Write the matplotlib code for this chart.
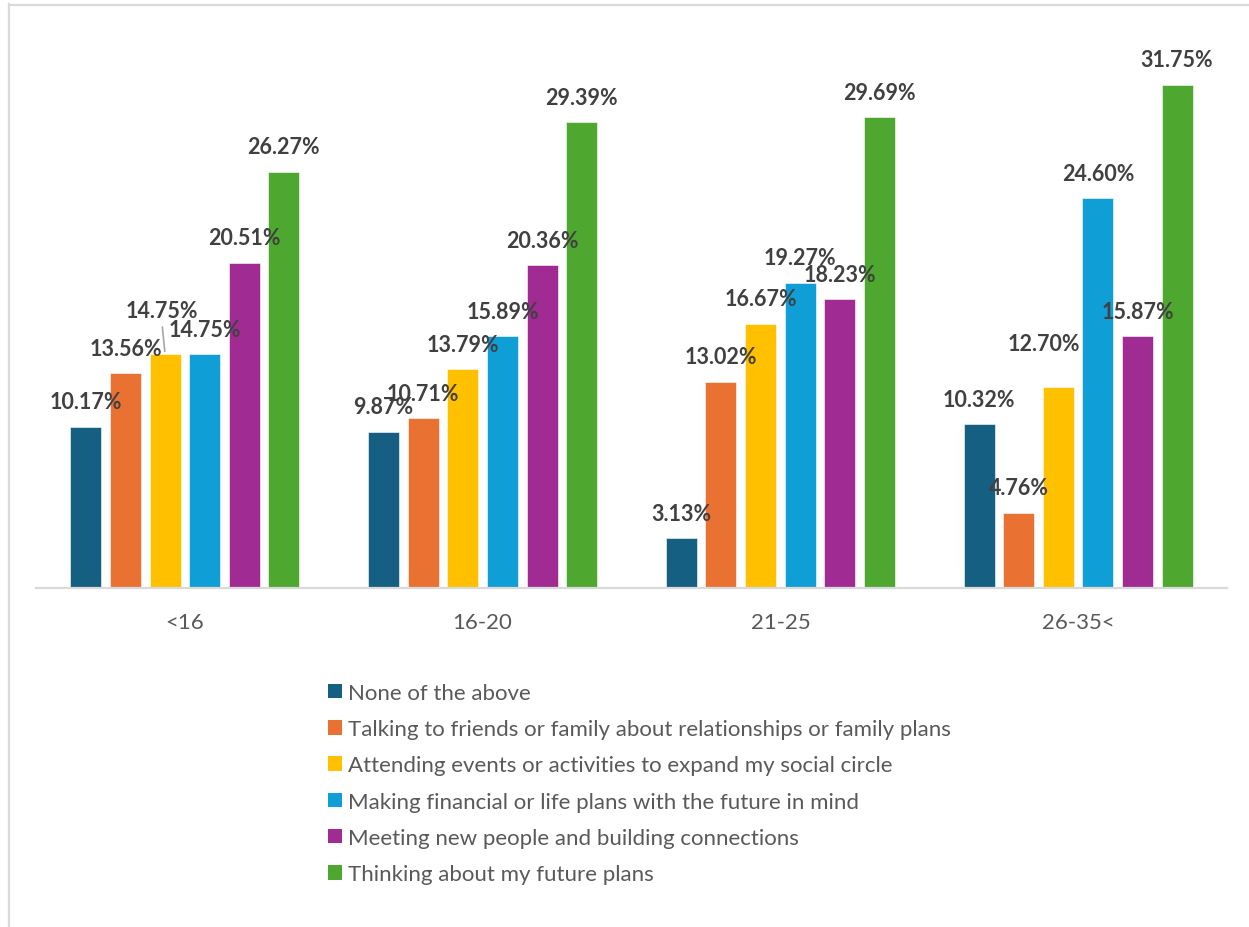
import numpy as np
import matplotlib
matplotlib.use("Agg")
import matplotlib.pyplot as plt
from matplotlib.patches import Patch
from matplotlib.lines import Line2D

plt.rcParams["font.family"] = ["Lato", "DejaVu Sans"]

# Age groups and the share of answers for each activity (percent)
age_groups = ["<16", "16-20", "21-25", "26-35<"]
series_names = [
    "None of the above",
    "Talking to friends or family about relationships or family plans",
    "Attending events or activities to expand my social circle",
    "Making financial or life plans with the future in mind",
    "Meeting new people and building connections",
    "Thinking about my future plans",
]
none_of_above = [10.17, 9.87, 3.13, 10.32]
talking_family = [13.56, 10.71, 13.02, 4.76]
attending_events = [14.75, 13.79, 16.67, 12.70]
making_plans = [14.75, 15.89, 19.27, 24.60]
meeting_people = [20.51, 20.36, 18.23, 15.87]
future_plans = [26.27, 29.39, 29.69, 31.75]

values = [none_of_above, talking_family, attending_events,
          making_plans, meeting_people, future_plans]
colors = ["#156082", "#E97132", "#FFC000", "#0F9ED5", "#A02B93", "#4EA72E"]

W, H = 1249, 928
fig = plt.figure(figsize=(W / 100, H / 100), dpi=100)

# plot area in pixels: left 36, right 1227, baseline at y=589
px_per_pct = 15.85
ymax = 35
ax = fig.add_axes([36 / W, (H - 589) / H, (1227 - 36) / W, ymax * px_per_pct / H])

x = np.arange(len(age_groups))
pitch = 0.133
width = 0.104
n = len(values)

# label offsets in pixels (dx, dy above bar top); a few are nudged apart
default_dy = 25
nudges = {(0, 2): (-3, 44), (3, 2): (-14, 43)}

for i, (vals, col) in enumerate(zip(values, colors)):
    xs = x + (i - (n - 1) / 2) * pitch
    ax.bar(xs, vals, width=width, color=col, edgecolor="white", linewidth=0.4,
           label=series_names[i], zorder=2)
    for g, (xx, v) in enumerate(zip(xs, vals)):
        dx, dy = nudges.get((g, i), (0, default_dy))
        ax.annotate(f"{v:.2f}%", xy=(xx, v), xytext=(dx * 0.72, dy * 0.72),
                    textcoords="offset points", ha="center", va="center",
                    fontsize=15.5, fontweight="bold", color="#404040", zorder=3)
        if (g, i) == (0, 2):
            ax.annotate("", xy=(xx, v), xytext=(dx * 0.72, (dy - 14) * 0.72),
                        textcoords="offset points",
                        arrowprops=dict(arrowstyle="-", color="#A6A6A6", lw=1.2))

ax.set_xlim(-0.5, len(age_groups) - 0.5)
ax.set_ylim(0, ymax)
ax.set_xticks(x)
ax.set_xticklabels(age_groups, fontsize=16, color="#595959")
ax.tick_params(axis="x", length=0, pad=17)
ax.set_yticks([])
for side in ["top", "right", "left"]:
    ax.spines[side].set_visible(False)
ax.spines["bottom"].set_color("#D9D9D9")
ax.spines["bottom"].set_linewidth(1.6)

handles = [Patch(facecolor=c, edgecolor="none") for c in colors]
leg = fig.legend(handles, series_names, loc="upper left",
                 bbox_to_anchor=(328 / W, 1 - 684 / H), frameon=False,
                 fontsize=16, labelcolor="#595959", handlelength=0.63,
                 handleheight=0.63, handletextpad=0.25, labelspacing=0.73,
                 borderaxespad=0, borderpad=0)

# thin chart-area frame along the left and top edges
fig.add_artist(Line2D([8.5 / W, 8.5 / W], [0, 1 - 5 / H], transform=fig.transFigure,
                      color="#D9D9D9", lw=1.6))
fig.add_artist(Line2D([8.5 / W, 1], [1 - 5.5 / H, 1 - 5.5 / H], transform=fig.transFigure,
                      color="#D9D9D9", lw=1.6))

fig.savefig("out.png", dpi=100, facecolor="white")
